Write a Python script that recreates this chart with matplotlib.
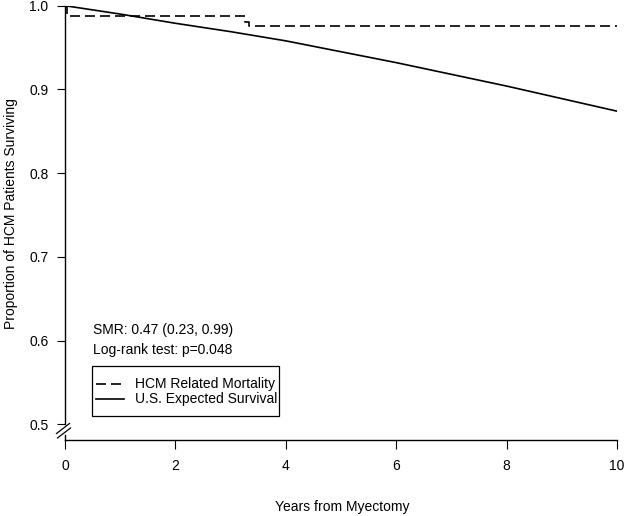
import matplotlib
matplotlib.use("Agg")
import matplotlib.pyplot as plt
from matplotlib.lines import Line2D
from matplotlib.patches import Rectangle

plt.rcParams['font.family'] = ['Liberation Sans', 'DejaVu Sans']

# Data
hcm_years = [0.0, 0.03, 3.26, 3.33, 10.0]
hcm_surv = [1.0, 0.988, 0.981, 0.976, 0.976]

us_years = [0, 1, 2, 3, 4, 5, 6, 7, 8, 9, 10]
us_surv = [1.0, 0.990, 0.979, 0.969, 0.958, 0.945, 0.932, 0.918, 0.904, 0.889, 0.874]

x_ticks = [0, 2, 4, 6, 8, 10]
y_ticks = [0.5, 0.6, 0.7, 0.8, 0.9, 1.0]

series_labels = ['HCM Related Mortality', 'U.S. Expected Survival']

W, H = 628, 516
fig = plt.figure(figsize=(W / 100, H / 100), dpi=100)


def fx(x):
    return x / W


def fy(y):
    return 1 - y / H


left, right, top, bottom = 65, 617, 5.7, 440
ax = fig.add_axes([fx(left), fy(bottom), (right - left) / W, (bottom - top) / H])

DASH = (0, (6, 3))
ax.plot(hcm_years, hcm_surv, color='black', lw=1.2, drawstyle='steps-post',
        linestyle=DASH)
ax.plot(us_years, us_surv, color='black', lw=1.2)

ax.set_xlim(0, 10)
ax.set_ylim(0.4812, 1.0)
ax.spines['top'].set_visible(False)
ax.spines['right'].set_visible(False)
for s in ['left', 'bottom']:
    ax.spines[s].set_linewidth(1.0)
ax.spines['left'].set_bounds(0.5, 1.0)
ax.set_xticks(x_ticks)
ax.set_xticklabels([str(t) for t in x_ticks])
ax.set_yticks(y_ticks)
ax.set_yticklabels([f"{t:.1f}" for t in y_ticks])
ax.tick_params(axis='x', direction='out', length=6.5, width=0.8, pad=7.5, labelsize=10)
ax.tick_params(axis='y', direction='out', length=6, width=0.8, pad=6, labelsize=10)

# axis break marks and lower spine stub
for (x0, y0, x1, y1) in [(56.5, 433.5, 69.5, 423.5), (57.5, 438, 70.5, 428)]:
    fig.add_artist(Line2D([fx(x0), fx(x1)], [fy(y0), fy(y1)], color='black', lw=0.9))
fig.add_artist(Line2D([fx(65.2), fx(65.2)], [fy(435), fy(440)], color='black', lw=1.0))

fig.text(fx(342), fy(507), 'Years from Myectomy', ha='center', va='center', fontsize=10)
fig.text(fx(11), fy(214), 'Proportion of HCM Patients Surviving', ha='center',
         va='center', rotation=90, fontsize=10)

fig.text(fx(93), fy(330), 'SMR: 0.47 (0.23, 0.99)', ha='left', va='center', fontsize=10)
fig.text(fx(93), fy(350), 'Log-rank test: p=0.048', ha='left', va='center', fontsize=10)

# legend box
fig.add_artist(Rectangle((fx(92), fy(416)), (279 - 92) / W, (416 - 366) / H,
                         fill=False, edgecolor='black', lw=0.9))
for yy, ls, lab in [(384, DASH, series_labels[0]), (399, '-', series_labels[1])]:
    fig.add_artist(Line2D([fx(96), fx(124)], [fy(yy), fy(yy)], color='black', lw=1.2,
                          linestyle=ls))
    fig.text(fx(135), fy(yy), lab, ha='left', va='center', fontsize=10)

fig.savefig('out.png', dpi=100)
